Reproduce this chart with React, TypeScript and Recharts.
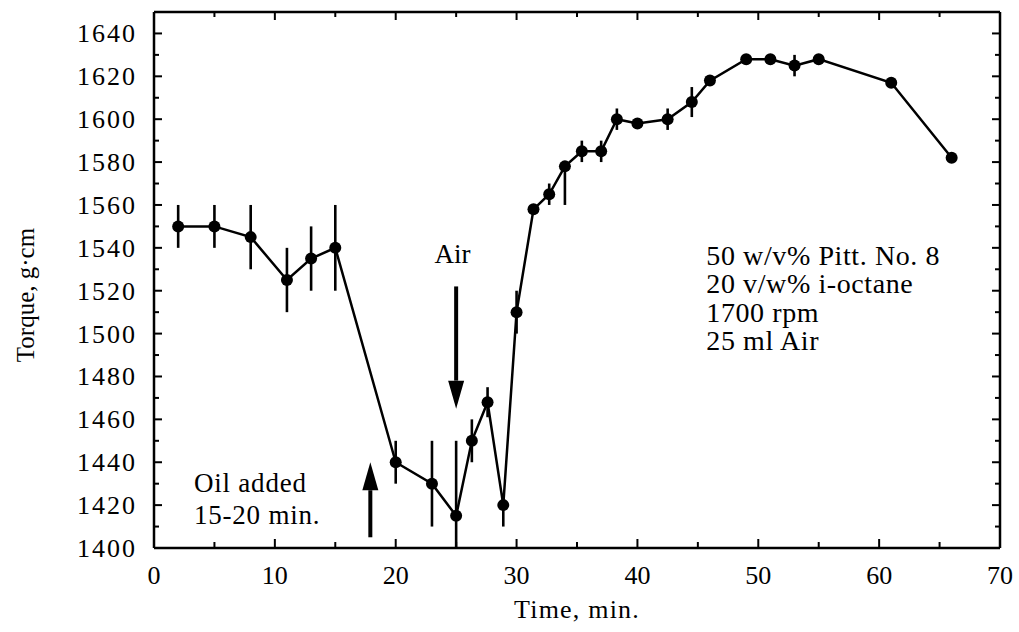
import React from 'react';
import { ComposedChart, Line, XAxis, YAxis, ErrorBar, ReferenceLine, ReferenceDot } from 'recharts';

const times = [2, 5, 8, 11, 13, 15, 20, 23, 25, 26.3, 27.6, 28.9, 30, 31.4, 32.7, 34, 35.4, 37, 38.3, 40, 42.5, 44.5, 46, 49, 51, 53, 55, 61, 66];
const torque = [1550, 1550, 1545, 1525, 1535, 1540, 1440, 1430, 1415, 1450, 1468, 1420, 1510, 1558, 1565, 1578, 1585, 1585, 1600, 1598, 1600, 1608, 1618, 1628, 1628, 1625, 1628, 1617, 1582];
const errLow = [10, 10, 15, 15, 15, 20, 10, 20, 15, 10, 7, 10, 10, 0, 5, 18, 5, 5, 5, 0, 5, 7, 0, 0, 0, 5, 0, 0, 0];
const errHigh = [10, 10, 15, 15, 15, 20, 10, 20, 35, 10, 7, 0, 10, 0, 5, 0, 5, 5, 5, 0, 5, 7, 0, 0, 0, 5, 0, 0, 0];

const xTicks = [0, 5, 10, 15, 20, 25, 30, 35, 40, 45, 50, 55, 60, 65, 70];
const yTicks = [1400, 1410, 1420, 1430, 1440, 1450, 1460, 1470, 1480, 1490, 1500, 1510, 1520, 1530, 1540, 1550, 1560, 1570, 1580, 1590, 1600, 1610, 1620, 1630, 1640];
const xDomain = [0, 70];
const yDomain = [1400, 1650];

const infoLines = ['50 w/v% Pitt. No. 8', '20 v/w% i-octane', '1700 rpm', '25 ml Air'];
const oilLines = ['Oil added', '15-20 min.'];

const rows = times.map((t, i) => ({ t, v: torque[i], err: [errLow[i], errHigh[i]] }));

const FONT = '"Liberation Serif", "DejaVu Serif", serif';
const TICK_W = 2;

const BottomLabel = (p: any) => {
  const { x, y, payload } = p;
  if (payload.value % 10 !== 0) return <g />;
  return (
    <text x={x} y={y + 28} textAnchor="middle" fontFamily={FONT} fontSize={26} fill="#000">
      {payload.value}
    </text>
  );
};
const LeftLabel = (p: any) => {
  const { x, y, payload } = p;
  if (payload.value % 20 !== 0) return <g />;
  return (
    <text x={x - 9} y={y + 9} textAnchor="end" fontFamily={FONT} fontSize={26} letterSpacing={2} fill="#000">
      {payload.value}
    </text>
  );
};

// vertical segment from bottom to top: inward ticks at both ends
const xTickShape = (major: boolean) => (p: any) => {
  const { x1, y1, x2, y2 } = p;
  const lb = major ? 9 : 6;
  const lt = major ? 8 : 5;
  const yb = Math.max(y1, y2);
  const yt = Math.min(y1, y2);
  return (
    <g>
      <path d={`M${x1},${yb}L${x1},${yb - lb}`} stroke="#000" strokeWidth={TICK_W} fill="none" />
      <path d={`M${x2},${yt}L${x2},${yt + lt}`} stroke="#000" strokeWidth={TICK_W} fill="none" />
    </g>
  );
};
// horizontal segment from left to right: inward ticks at both ends
const yTickShape = (major: boolean) => (p: any) => {
  const { x1, y1, x2, y2 } = p;
  const len = major ? 8 : 5;
  const xl = Math.min(x1, x2);
  const xr = Math.max(x1, x2);
  return (
    <g>
      <path d={`M${xl},${y1}L${xl + len},${y1}`} stroke="#000" strokeWidth={TICK_W} fill="none" />
      <path d={`M${xr},${y2}L${xr - len},${y2}`} stroke="#000" strokeWidth={TICK_W} fill="none" />
    </g>
  );
};

const arrowShape = (p: any) => {
  const { x1, y1, x2, y2 } = p;
  const dir = y2 > y1 ? 1 : -1;
  const headLen = 28;
  const headHalf = 8;
  const baseY = y2 - dir * headLen;
  return (
    <g>
      <path d={`M${x1},${y1}L${x2},${baseY}`} stroke="#000" strokeWidth={4} fill="none" />
      <path d={`M${x2 - headHalf},${baseY}L${x2 + headHalf},${baseY}L${x2},${y2}Z`} fill="#000" stroke="none" />
    </g>
  );
};

const airText = (p: any) => (
  <text x={p.cx} y={p.cy} textAnchor="middle" fontFamily={FONT} fontSize={27} fill="#000">Air</text>
);
const oilText = (p: any) => (
  <text x={p.cx} y={p.cy} fontFamily={FONT} fontSize={27} letterSpacing={0.8} fill="#000">
    {oilLines.map((l, i) => (
      <tspan key={i} x={p.cx} dy={i === 0 ? 0 : 32}>{l}</tspan>
    ))}
  </text>
);
const infoText = (p: any) => (
  <text x={p.cx} y={p.cy} fontFamily={FONT} fontSize={28} letterSpacing={0.6} fill="#000">
    {infoLines.map((l, i) => (
      <tspan key={i} x={p.cx} dy={i === 0 ? 0 : 28.5}>{l}</tspan>
    ))}
  </text>
);

const XLabel = (p: any) => {
  const vb = p.viewBox;
  return (
    <text x={vb.x + vb.width / 2} y={vb.y + 70} textAnchor="middle" fontFamily={FONT} fontSize={26} letterSpacing={1.2} fill="#000">
      Time, min.
    </text>
  );
};
const YLabel = (p: any) => {
  const vb = p.viewBox;
  const cx = vb.x + 25;
  const cy = vb.y + vb.height / 2 + 15;
  return (
    <text x={cx} y={cy} transform={`rotate(-90, ${cx}, ${cy})`} textAnchor="middle" dominantBaseline="central" fontFamily={FONT} fontSize={25} fill="#000">
      Torque, g·cm
    </text>
  );
};

export default function App() {
  return (
    <div style={{ position: 'absolute', left: 0, top: 0, width: 1019, height: 632, background: '#fff' }}>
      <ComposedChart width={1019} height={632} data={rows} margin={{ top: 12, right: 19, bottom: 0, left: 0 }}>
        <XAxis dataKey="t" type="number" domain={xDomain} ticks={xTicks} allowDataOverflow height={84}
          tickLine={false} axisLine={{ stroke: '#000', strokeWidth: 2.5 }}
          tick={<BottomLabel />} interval={0} label={<XLabel />} />
        <YAxis type="number" domain={yDomain} ticks={yTicks} allowDataOverflow width={154}
          tickLine={false} axisLine={{ stroke: '#000', strokeWidth: 2.5 }}
          tick={<LeftLabel />} interval={0} label={<YLabel />} />
        <ReferenceLine y={yDomain[1]} stroke="#000" strokeWidth={2.5} />
        <ReferenceLine x={xDomain[1]} stroke="#000" strokeWidth={2.5} />
        {xTicks.map((t) => (
          <ReferenceLine key={`xt${t}`} segment={[{ x: t, y: yDomain[0] }, { x: t, y: yDomain[1] }]} shape={xTickShape(t % 10 === 0)} />
        ))}
        {yTicks.map((v) => (
          <ReferenceLine key={`yt${v}`} segment={[{ x: xDomain[0], y: v }, { x: xDomain[1], y: v }]} shape={yTickShape(v % 20 === 0)} />
        ))}
        <Line dataKey="v" type="linear" stroke="#000" strokeWidth={2.5}
          dot={{ r: 6, fill: '#000', stroke: '#000', strokeWidth: 0 }} activeDot={false} isAnimationActive={false}>
          <ErrorBar dataKey="err" width={0} stroke="#000" strokeWidth={2.6} direction="y" />
        </Line>
        <ReferenceLine segment={[{ x: 25, y: 1522 }, { x: 25, y: 1465 }]} shape={arrowShape} />
        <ReferenceLine segment={[{ x: 17.9, y: 1405 }, { x: 17.9, y: 1440 }]} shape={arrowShape} />
        <ReferenceDot x={24.7} y={1533} r={0} shape={airText} />
        <ReferenceDot x={3.3} y={1426} r={0} shape={oilText} />
        <ReferenceDot x={45.7} y={1532} r={0} shape={infoText} />
      </ComposedChart>
    </div>
  );
}
